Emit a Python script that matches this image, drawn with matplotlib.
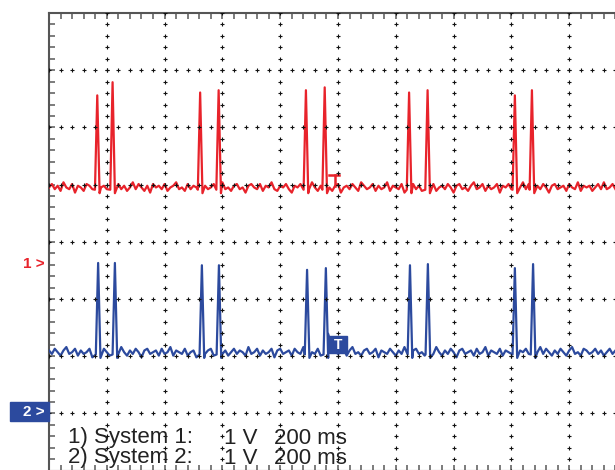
import numpy as np
import matplotlib
matplotlib.use("Agg")
import matplotlib.pyplot as plt
from matplotlib.patches import Rectangle

# scope settings: x in ms (200 ms/div), y in divisions (1 V/div)
ms_per_div = 200
ch1_ground = -0.39
ch2_ground = -3.0
ch1_base = 1.34
ch2_base = 1.07
step_ms = 10
noise_v = 0.03

# spike times (ms) and heights above baseline (V)
red_spike_t = [167, 220, 523, 587, 889, 954, 1246, 1310, 1612, 1671]
red_spike_v = [1.61, 1.84, 1.66, 1.70, 1.70, 1.75, 1.66, 1.70, 1.61, 1.70]
blue_spike_t = [170, 228, 529, 588, 893, 958, 1249, 1311, 1612, 1675]
blue_spike_v = [1.56, 1.56, 1.52, 1.52, 1.44, 1.47, 1.52, 1.54, 1.47, 1.54]

# baseline jitter, in steps of noise_v
red_noise = [0,2,-1,1,-2,3,0,-1,2,-3,1,0,-2,2,1,-1,3,-2,0,1,
             -1,2,-3,0,2,-1,1,-2,0,3,-1,2,0,-2,1,-3,2,0,1,-1,
             2,-2,0,1,3,-1,0,-2,2,-1,1,0,-3,2,1,-1,0,2,-2,1,
             3,-1,0,-2,1,2,-1,0,-3,1,2,0,-1,2,-2,1,0,3,-1,-2,
             1,0,2,-1,-3,1,0,2,-2,1,-1,3,0,-2,1,2,-1,0,-2,1,
             2,-3,0,1,-1,2,0,-2,3,1,-1,0,2,-2,1,-1,0,3,-2,1,
             0,-1,2,-3,1,0,2,-1,1,-2,0,3,-1,2,-2,0,1,-1,2,0,
             -3,1,2,-1,0,-2,1,3,-1,0,2,-2,1,-1,0,2,-3,1,0,2,
             -1,1,-2,0,3,-1,2,0,-2,1,-1,2,0,-3,1,2,-1,0,1,-2,
             2,0,-1,3,-2,1,0,1,-2,0,2,-1,3,-1,0,2,-1]
blue_noise = [1,-1,2,0,-2,1,3,-1,0,2,-2,1,-1,0,2,-3,1,0,-1,2,
              0,-2,1,2,-1,3,0,-2,1,-1,2,0,-3,1,2,-1,0,1,-2,2,
              -1,0,3,-2,1,0,-1,2,-2,0,1,-3,2,0,-1,1,2,-2,0,3,
              -1,1,-2,0,2,-1,1,0,-2,3,-1,0,2,-2,1,-1,0,2,-3,1,
              2,-1,0,1,-2,2,0,-1,3,-2,1,0,-1,2,-2,1,0,-3,2,1,
              -1,0,2,-2,1,3,-1,0,-2,1,2,-1,0,2,-3,1,0,-1,2,0,
              -2,1,-1,3,0,-2,1,2,-1,0,-2,1,2,-1,3,0,-2,1,-1,2,
              0,-3,1,2,-1,0,1,-2,2,-1,0,3,-2,1,0,-1,2,-2,1,0,
              -1,2,-3,1,0,2,-1,1,-2,0,3,-1,2,0,-2,1,-1,2,0,-2,
              1,3,-1,0,-2,2,1,-1,0,2,-1,1,-2,0,2,-1,1]

# shoulder after the 6th blue spike
blue_extra_t = [966, 980]
blue_extra_v = [0.32, 0.08]

legend_lines = [("1) System 1:", "1 V", "200 ms"),
                ("2) System 2:", "1 V", "200 ms")]

RED = "#e8232b"
BLUE = "#2c4a9e"


def build_trace(noise, spike_t, spike_v, extra_t=(), extra_v=()):
    t = np.arange(len(noise)) * step_ms
    v = np.array(noise) * noise_v
    keep = np.ones(len(t), bool)
    for tc in spike_t:
        keep &= np.abs(t - tc) > 10
    for tc in extra_t:
        keep &= np.abs(t - tc) > 6
    tt = list(t[keep])
    vv = list(v[keep])
    for tc, pk in zip(spike_t, spike_v):
        tt += [tc - 8, tc, tc + 8]
        vv += [-0.04, pk, -0.1]
    tt += list(extra_t)
    vv += list(extra_v)
    order = np.argsort(tt)
    return np.array(tt)[order], np.array(vv)[order]


W, H = 615, 470
fig = plt.figure(figsize=(W / 100, H / 100), dpi=100)
fig.patch.set_facecolor("white")
ax = fig.add_axes([49 / W, -0.6 / H, 578 / W, 457.6 / H])
ax.set_xlim(0, 10 * ms_per_div)
ax.set_ylim(-4, 4)

# grid of small crosses
minor_x = np.arange(0, 2001, 40)
minor_y = np.arange(-4, 4.01, 0.2)
for k in range(1, 10):
    ax.plot(np.full(len(minor_y), k * ms_per_div), minor_y, ls="none",
            marker="+", ms=2.6, mew=0.8, color="#111111", zorder=4)
for k in range(-3, 4):
    ax.plot(minor_x, np.full(len(minor_x), k), ls="none",
            marker="+", ms=2.6, mew=0.8, color="#111111", zorder=4)

t1, v1 = build_trace(red_noise, red_spike_t, red_spike_v)
t2, v2 = build_trace(blue_noise, blue_spike_t, blue_spike_v, blue_extra_t, blue_extra_v)
ax.plot(t1, v1 + ch1_ground + ch1_base, color=RED, lw=1.6, zorder=3)
ax.plot(t2, v2 + ch2_ground + ch2_base, color=BLUE, lw=1.6, zorder=3)

# trigger markers
ax.plot([969, 1005], [1.17, 1.17], color=RED, lw=1.8, zorder=3)
ax.plot([988, 988], [1.17, 0.98], color=RED, lw=1.8, zorder=3)
ax.add_patch(Rectangle((970, -1.95), 60, 0.30, color=BLUE, zorder=5))
ax.text(1000, -1.80, "T", color="white", fontsize=10, fontweight="bold",
        ha="center", va="center", family="Liberation Sans", zorder=6)

# spines and ticks
for side in ["left", "top", "bottom"]:
    ax.spines[side].set_color("#555555")
    ax.spines[side].set_linewidth(1.5)
ax.spines["right"].set_visible(False)
ax.set_xticks(minor_x)
ax.set_yticks(minor_y)
ax.tick_params(direction="in", length=4, width=1.2, color="#666666",
               top=True, bottom=True, left=True, right=False,
               labelbottom=False, labelleft=False)

# channel markers on the left
fig.text(45 / W, 1 - 264 / H, "1 >", color=RED, fontsize=11, fontweight="bold",
         ha="right", va="center", family="Liberation Sans")
fig.patches.append(Rectangle((10 / W, 1 - 421 / H), 39 / W, 19 / H,
                             transform=fig.transFigure, color=BLUE, zorder=1))
fig.text(45 / W, 1 - 412 / H, "2 >", color="white", fontsize=11, fontweight="bold",
         ha="right", va="center", family="Liberation Sans", zorder=2)

# settings text
for i, (name, volts, tb) in enumerate(legend_lines):
    y = 1 - (438 + 20 * i) / H
    for x, s in [(68, name), (224, volts), (274, tb)]:
        fig.text(x / W, y, s, fontsize=16, color="#222222", ha="left",
                 va="center", family="Liberation Sans", zorder=0)

fig.savefig("out.png", dpi=100)
